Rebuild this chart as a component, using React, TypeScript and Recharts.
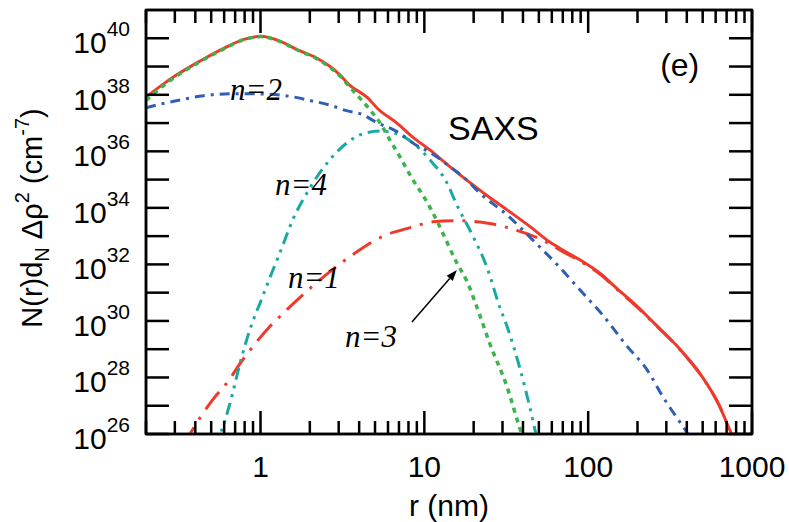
import React from "react";
import { LineChart, Line, XAxis, YAxis, ReferenceDot, ReferenceLine, ReferenceArea } from "recharts";

// axis ticks (log-log)
const xTicks = [
  0.2, 0.3, 0.4, 0.5, 0.6, 0.7, 0.8, 0.9, 1, 2, 3, 4, 5, 6, 7, 8, 9, 10, 20, 30, 40, 50, 60, 70, 80, 90,
  100, 200, 300, 400, 500, 600, 700, 800, 900, 1000,
];
const xLabels = [1, 10, 100, 1000];
const yTicks = [1e26, 1e27, 1e28, 1e29, 1e30, 1e31, 1e32, 1e33, 1e34, 1e35, 1e36, 1e37, 1e38, 1e39, 1e40];
const yLabelExps = [26, 28, 30, 32, 34, 36, 38, 40];

// total (red solid)
const totalR = [0.2, 0.25, 0.3, 0.43, 0.6, 0.8, 1.0, 1.3, 1.7, 2.2, 2.66, 3.06, 3.5, 4.5, 5.2, 6.8, 8.5, 10.8, 14, 18, 24, 32, 45, 58, 70, 89, 120, 150, 200, 250, 350, 500, 620, 750, 850];
const totalV = [8.3e37, 2.2e38, 4.6e38, 1.6e39, 4.5e39, 9.3e39, 1.17e40, 8.1e39, 3.8e39, 2.0e39, 1.0e39, 5.0e38, 2.2e38, 7.9e37, 3.2e37, 1.0e37, 3.2e36, 1.12e36, 3.2e35, 1.0e35, 2.8e34, 8.5e33, 2.0e33, 6.3e32, 3.2e32, 1.45e32, 4.5e31, 1.4e31, 3.2e30, 8.9e29, 1.26e29, 1.0e28, 1.26e27, 1.0e26, 2.0e25];

// n=1 (red dash-dot)
const n1R = [0.33, 0.37, 0.43, 0.51, 0.65, 0.72, 0.9, 1.14, 1.45, 2.0, 2.8, 3.88, 5.6, 8.2, 11.3, 16.5, 25, 36.7, 53, 70, 89, 120, 150, 200, 250, 350, 500, 620, 750, 850];
const n1V = [4.0e25, 1.0e26, 4.0e26, 1.6e27, 8.9e27, 2.2e28, 1.26e29, 6.3e29, 2.5e30, 1.4e31, 7.1e31, 2.8e32, 1.0e33, 2.0e33, 3.2e33, 3.5e33, 2.8e33, 1.6e33, 7.1e32, 2.8e32, 1.32e32, 4.2e31, 1.32e31, 3.0e30, 8.5e29, 1.23e29, 9.8e27, 1.26e27, 1.0e26, 2.0e25];

// n=2 (blue dash-dot)
const n2R = [0.2, 0.25, 0.3, 0.45, 0.7, 1.0, 1.5, 2.0, 2.7, 3.3, 4.2, 5.0, 6.8, 9.0, 10.8, 14, 18, 22, 32, 46, 67, 89, 123, 173, 229, 287, 380, 430];
const n2V = [3.5e37, 4.8e37, 6.0e37, 9.3e37, 1.1e38, 1.07e38, 8.9e37, 6.3e37, 4.2e37, 2.8e37, 2.0e37, 1.12e37, 5.0e36, 1.6e36, 9.3e35, 3.2e35, 1.0e35, 3.2e34, 5.6e33, 7.2e32, 7.9e31, 1.26e31, 1.58e30, 1.26e29, 1.86e28, 2.0e27, 1.8e26, 6.3e25];

// n=3 (green dotted)
const n3R = [0.2, 0.25, 0.3, 0.43, 0.6, 0.8, 1.0, 1.3, 1.7, 2.2, 2.66, 3.06, 3.5, 4.67, 5.37, 6.17, 7.1, 8.5, 9.8, 10.8, 12.4, 15.8, 18.2, 21.8, 25, 32, 38, 42];
const n3V = [6.3e37, 1.9e38, 4.2e38, 1.5e39, 4.3e39, 9.1e39, 1.15e40, 7.9e39, 3.7e39, 1.9e39, 9.1e38, 4.6e38, 1.9e38, 2.9e37, 1.0e37, 2.5e36, 6.3e35, 1.0e35, 2.8e34, 1.07e34, 2.2e33, 1.12e32, 2.5e31, 1.6e30, 1.66e29, 4.6e27, 1.8e26, 3.2e25];

// n=4 (teal dash-dot-dot)
const n4R = [0.52, 0.568, 0.652, 0.75, 0.862, 1.02, 1.19, 1.32, 1.58, 2.0, 2.66, 3.37, 4.22, 5.37, 6.8, 8.5, 10.8, 13.7, 15.8, 19.8, 24.1, 28.8, 32, 38, 44, 48.5, 52];
const n4V = [3.2e25, 1.0e26, 1.26e27, 3.2e28, 5.0e29, 6.3e30, 6.3e31, 2.8e32, 4.0e33, 5.0e34, 5.2e35, 2.0e36, 4.2e36, 5.2e36, 4.2e36, 2.0e36, 5.0e35, 7.9e34, 1.26e34, 1.0e33, 7.9e31, 3.2e30, 6.3e29, 2.5e28, 9.1e26, 7.9e25, 2.0e25];

const toPoints = (r: number[], v: number[]) => r.map((x, i) => ({ r: x, v: v[i] }));

const SANS = "'Liberation Sans', Arial, Helvetica, sans-serif";
const SERIF = "'Liberation Serif', 'Times New Roman', serif";
const INK = "#000";

const XTick = (props: any) => {
  const { x, y, payload, top } = props;
  const v = payload.value;
  const major = xLabels.includes(v);
  const len = major ? 23 : 13;
  const dir = top ? 1 : -1;
  return (
    <g>
      <line x1={x} x2={x} y1={y} y2={y + dir * len} stroke={INK} strokeWidth={2.5} />
      {!top && major && (
        <text x={x} y={y + 43} textAnchor="middle" fontFamily={SANS} fontSize={30} fill={INK}>
          {v}
        </text>
      )}
    </g>
  );
};

const YTick = (props: any) => {
  const { x, y, payload, right } = props;
  const exp = Math.round(Math.log10(payload.value));
  const dir = right ? -1 : 1;
  return (
    <g>
      <line x1={x} x2={x + dir * 23} y1={y} y2={y} stroke={INK} strokeWidth={2.5} />
      {!right && yLabelExps.includes(exp) && (
        <text x={x - 16} y={y + 15} textAnchor="end" fontFamily={SANS} fill={INK}>
          <tspan fontSize={30}>10</tspan>
          <tspan fontSize={21} dy={-17}>{exp}</tspan>
        </text>
      )}
    </g>
  );
};

const label = (txt: string, font: string, size: number, italic = false) => (p: any) => (
  <text x={p.cx} y={p.cy} fontFamily={font} fontSize={size} fontStyle={italic ? "italic" : "normal"} fill={INK}>
    {txt}
  </text>
);

const Arrow = (p: any) => {
  const { x1, y1, x2, y2 } = p;
  const a = Math.atan2(y2 - y1, x2 - x1);
  const L = 11;
  const W = 4;
  const bx = x2 - L * Math.cos(a);
  const by = y2 - L * Math.sin(a);
  const px = -Math.sin(a) * W;
  const py = Math.cos(a) * W;
  return (
    <g>
      <line x1={x1} y1={y1} x2={bx} y2={by} stroke={INK} strokeWidth={1.5} />
      <polygon points={`${x2},${y2} ${bx + px},${by + py} ${bx - px},${by - py}`} fill={INK} />
    </g>
  );
};

const axisLine = { stroke: INK, strokeWidth: 2.5 };

export default function App() {
  return (
    <div style={{ position: "absolute", left: 0, top: 0, background: "#fff" }}>
      <LineChart width={789} height={522} margin={{ top: 9, right: 36, bottom: 0, left: 0 }}>
        <XAxis
          dataKey="r"
          type="number"
          scale="log"
          domain={[0.2, 1000]}
          allowDataOverflow
          ticks={xTicks}
          interval={0}
          tickLine={false}
          tickSize={0}
          tickMargin={0}
          axisLine={axisLine}
          height={88}
          tick={(p: any) => <XTick {...p} />}
          label={{ value: "r (nm)", position: "insideBottom", offset: 6, fontSize: 30, fill: INK, fontFamily: SANS }}
        />
        <XAxis
          xAxisId="top"
          orientation="top"
          dataKey="r"
          type="number"
          scale="log"
          domain={[0.2, 1000]}
          allowDataOverflow
          ticks={xTicks}
          interval={0}
          tickLine={false}
          tickSize={0}
          tickMargin={0}
          axisLine={axisLine}
          height={1}
          tick={(p: any) => <XTick {...p} top />}
        />
        <YAxis
          type="number"
          scale="log"
          domain={[1e26, 1e41]}
          allowDataOverflow
          ticks={yTicks}
          interval={0}
          tickLine={false}
          tickSize={0}
          tickMargin={0}
          axisLine={axisLine}
          width={146}
          tick={(p: any) => <YTick {...p} />}
        />
        <YAxis
          yAxisId="right"
          orientation="right"
          type="number"
          scale="log"
          domain={[1e26, 1e41]}
          allowDataOverflow
          ticks={yTicks}
          interval={0}
          tickLine={false}
          tickSize={0}
          tickMargin={0}
          axisLine={axisLine}
          width={1}
          tick={(p: any) => <YTick {...p} right />}
        />

        {/* plot frame */}
        <ReferenceArea x1={0.2} x2={1000} y1={1e26} y2={1e41} fill="none" fillOpacity={0} stroke={INK} strokeWidth={2.5} ifOverflow="visible" />

        <Line data={toPoints(totalR, totalV)} dataKey="v" type="monotone" stroke="#ef3a2b" strokeWidth={3} dot={false} isAnimationActive={false} />
        <Line data={toPoints(n1R, n1V)} dataKey="v" type="monotone" stroke="#ef3a2b" strokeWidth={3} strokeDasharray="22 9 3 9" dot={false} isAnimationActive={false} />
        <Line data={toPoints(n4R, n4V)} dataKey="v" type="monotone" stroke="#1aa8a2" strokeWidth={3} strokeDasharray="12 6 3 6 3 6" dot={false} isAnimationActive={false} />
        <Line data={toPoints(n2R, n2V)} dataKey="v" type="monotone" stroke="#2f5fb5" strokeWidth={3} strokeDasharray="10 6 3 6" dot={false} isAnimationActive={false} />
        <Line data={toPoints(n3R, n3V)} dataKey="v" type="monotone" stroke="#3cb44b" strokeWidth={3.5} strokeDasharray="5 5" dot={false} isAnimationActive={false} />

        <ReferenceLine segment={[{ x: 8.4, y: 9.1e29 }, { x: 15.8, y: 6.3e31 }]} shape={Arrow} />
        <ReferenceDot x={0.652} y={6.6e37} shape={label("n=2", SERIF, 31, true)} />
        <ReferenceDot x={1.226} y={2.9e34} shape={label("n=4", SERIF, 31, true)} />
        <ReferenceDot x={1.47} y={1.5e31} shape={label("n=1", SERIF, 31, true)} />
        <ReferenceDot x={3.28} y={1.2e29} shape={label("n=3", SERIF, 31, true)} />
        <ReferenceDot x={13.96} y={2.5e36} shape={label("SAXS", SANS, 34)} />
        <ReferenceDot x={275} y={4.7e38} shape={label("(e)", SANS, 32)} />
      </LineChart>
      <svg width={60} height={522} style={{ position: "absolute", left: 0, top: 0 }}>
        <text transform="translate(42,218) rotate(-90)" textAnchor="middle" fontFamily={SANS} fontSize={29} fill={INK}>
          N(r)d<tspan fontSize={20} dy={7}>N</tspan>
          <tspan dy={-7}> Δρ</tspan>
          <tspan fontSize={20} dy={-13}>2</tspan>
          <tspan dy={13}> (cm</tspan>
          <tspan fontSize={20} dy={-13}>-7</tspan>
          <tspan dy={13}>)</tspan>
        </text>
      </svg>
    </div>
  );
}
